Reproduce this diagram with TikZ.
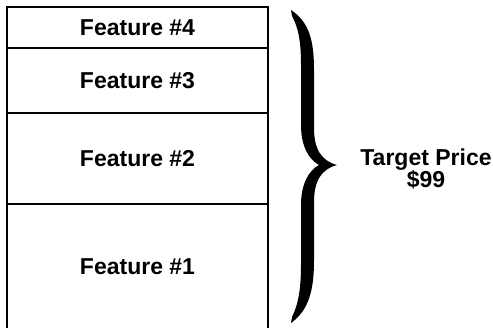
\documentclass[tikz,border=0pt]{standalone}
\usepackage{fontspec}
\setmainfont{Liberation Sans}
\usetikzlibrary{positioning}

\tikzset{
    feat/.style={rectangle, draw, line width=1.2pt, outer sep=0pt, minimum width=261pt,
                 font=\fontsize{23}{22}\selectfont\bfseries},
}

\begin{document}
\begin{tikzpicture}[x=1pt, y=-1pt]
                    \useasboundingbox (0,0) rectangle (493,328);
                    \node[feat, minimum height=41pt] (F4) at (137.5,27.5) {Feature \#4};
                    \node[feat, minimum height=65pt, below=0pt of F4] (F3) {Feature \#3};
                    \node[feat, minimum height=91pt, below=0pt of F3] (F2) {Feature \#2};
                    \node[feat, minimum height=125pt, below=0pt of F2] (F1) {Feature \#1};
                    % curly brace
                    \fill (291,10) .. controls (309,22) and (314,40) .. (314,70) -- (314,128)
                        .. controls (314,150) and (322,161) .. (337,165)
                        .. controls (322,169) and (314,180) .. (314,202) -- (314,260)
                        .. controls (314,290) and (309,310) .. (291,323) -- (292,317)
                        .. controls (298,305) and (301,290) .. (301,265) -- (301,205)
                        .. controls (301,185) and (308,171) .. (319,165)
                        .. controls (308,159) and (301,145) .. (301,125) -- (301,65)
                        .. controls (301,40) and (298,27) .. (292,16) -- cycle;
                    \node[font=\fontsize{23}{22}\selectfont\bfseries, align=center, inner sep=0pt] (price) at (426,169) {Target Price\\\$99};
                \end{tikzpicture}
\end{document}
